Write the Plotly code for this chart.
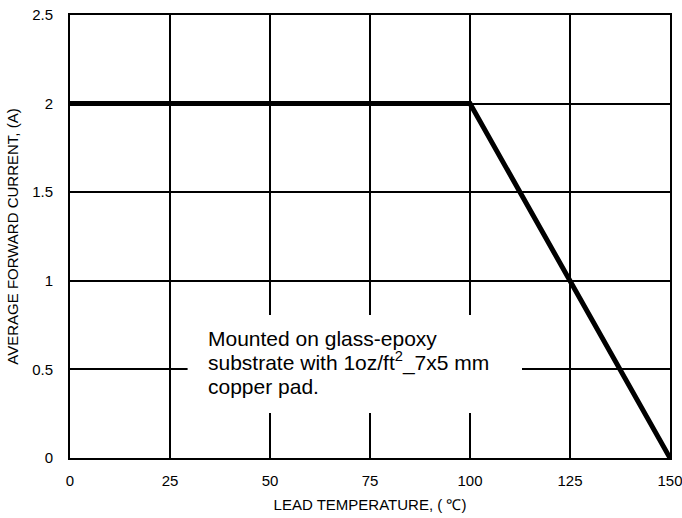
import plotly.graph_objects as go

temperature = [0, 100, 150]
current = [2, 2, 0]
x_ticks = [0, 25, 50, 75, 100, 125, 150]
y_ticks = [0, 0.5, 1, 1.5, 2, 2.5]
y_tick_text = ["0", "0.5", "1", "1.5", "2", "2.5"]
note_lines = ["Mounted on glass-epoxy",
              "substrate with 1oz/ft<sup>2</sup>_7x5 mm",
              "copper pad."]
note_y = [0.677, 0.542, 0.406]

fig = go.Figure()
fig.add_trace(go.Scatter(x=temperature, y=current, mode="lines",
                         line=dict(color="black", width=5), showlegend=False))

fig.add_shape(type="rect", x0=29.4, x1=113, y0=0.254, y1=0.807,
              fillcolor="white", line=dict(width=0), layer="above")
for line_text, ly in zip(note_lines, note_y):
    fig.add_annotation(x=34.0, y=ly, xref="x", yref="y", text=line_text, showarrow=False,
                       xanchor="left", yanchor="middle", align="left",
                       font=dict(family="Liberation Sans, Arial", size=21, color="black"))

axis_font = dict(family="Liberation Sans, Arial", size=15, color="black")
fig.update_layout(
    width=682, height=518,
    margin=dict(l=70, r=12, t=15, b=60),
    paper_bgcolor="white", plot_bgcolor="white",
    font=axis_font,
    xaxis=dict(range=[0, 150], tickvals=x_ticks, showgrid=True, gridcolor="black", gridwidth=2,
               showline=True, linecolor="black", linewidth=2, mirror=True, zeroline=False,
               ticks="", ticklabelstandoff=8, automargin=False, ticklabeloverflow="allow",
               title=dict(text="LEAD TEMPERATURE, ( ℃)", font=axis_font, standoff=11)),
    yaxis=dict(range=[0, 2.5], tickvals=y_ticks, ticktext=y_tick_text, showgrid=True,
               gridcolor="black", gridwidth=2,
               showline=True, linecolor="black", linewidth=2, mirror=True, zeroline=False,
               ticks="", ticklabelstandoff=12, automargin=False, ticklabeloverflow="allow",
               title=dict(text="AVERAGE FORWARD CURRENT, (A)", font=axis_font, standoff=10)),
)
fig.write_html("out.html", config={"displayModeBar": False},
               post_script="document.body.style.margin='0';document.body.style.overflow='hidden';")
